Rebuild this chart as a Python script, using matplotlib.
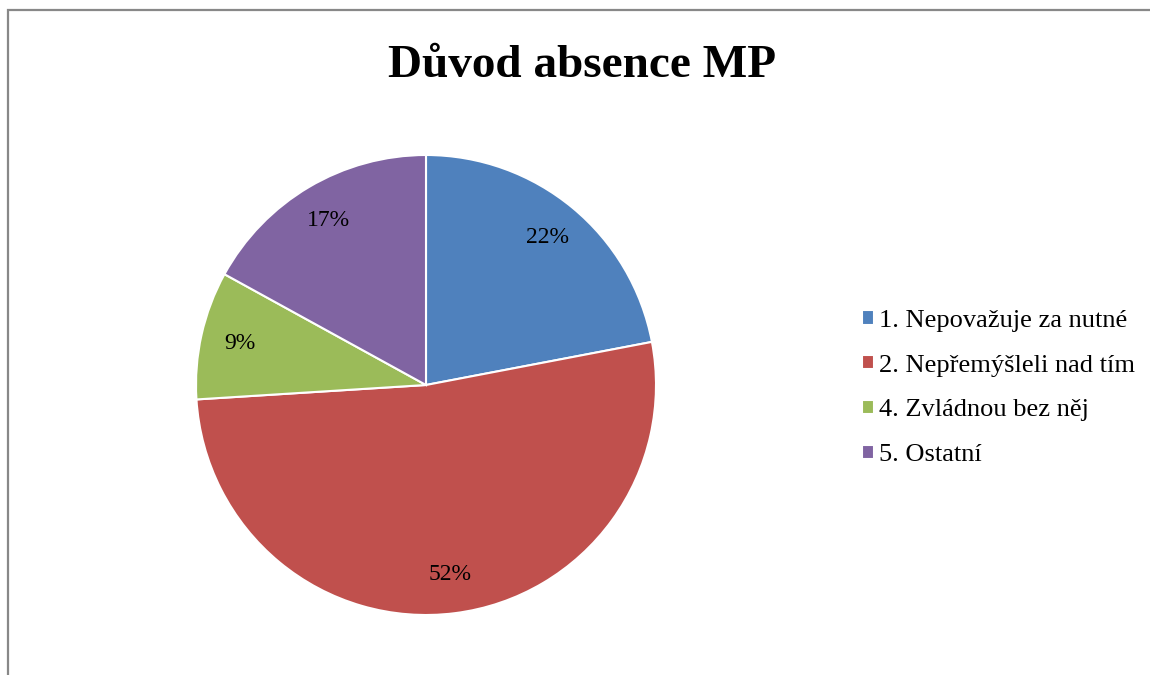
import matplotlib.pyplot as plt
from matplotlib.patches import Rectangle

# data
labels = ['1. Nepovažuje za nutné', '2. Nepřemýšleli nad tím',
          '4. Zvládnou bez něj', '5. Ostatní']
values = [22, 52, 9, 17]
colors = ['#4F81BD', '#C0504D', '#9BBB59', '#8064A2']

plt.rcParams['font.family'] = ['Liberation Serif', 'DejaVu Serif']

W, H = 1150, 675
fig = plt.figure(figsize=[W / 100, H / 100], dpi=100)

# chart border (only left and top visible)
fig.patches.append(Rectangle((8 / W, -0.1), 1.2, 1.1 - 10 / H,
                             transform=fig.transFigure, fill=False,
                             edgecolor='#888888', linewidth=1.6))

# pie axes: centre (426, 385), radius 230 px
cx, cy, r = 426, 385, 230
ax = fig.add_axes([(cx - r) / W, (H - cy - r) / H, 2 * r / W, 2 * r / H])
wedges, texts, autotexts = ax.pie(
    values, colors=colors, startangle=90, counterclock=False,
    autopct='%.0f%%', pctdistance=0.83,
    wedgeprops=dict(edgecolor='white', linewidth=1.5),
    textprops=dict(fontsize=17, color='black'))
ax.set_xlim(-1, 1)
ax.set_ylim(-1, 1)
ax.set_aspect('equal')

fig.text(582 / W, 1 - 77 / H, 'Důvod absence MP', ha='center', va='baseline',
         fontsize=34, fontweight='bold')

fig.legend(wedges, labels, loc='center left', bbox_to_anchor=(849 / W, 1 - 388 / H),
           frameon=False, fontsize=19, handlelength=0.45, handleheight=0.45,
           handletextpad=0.2, labelspacing=0.86, borderpad=0)

fig.savefig('out.png', dpi=100)
